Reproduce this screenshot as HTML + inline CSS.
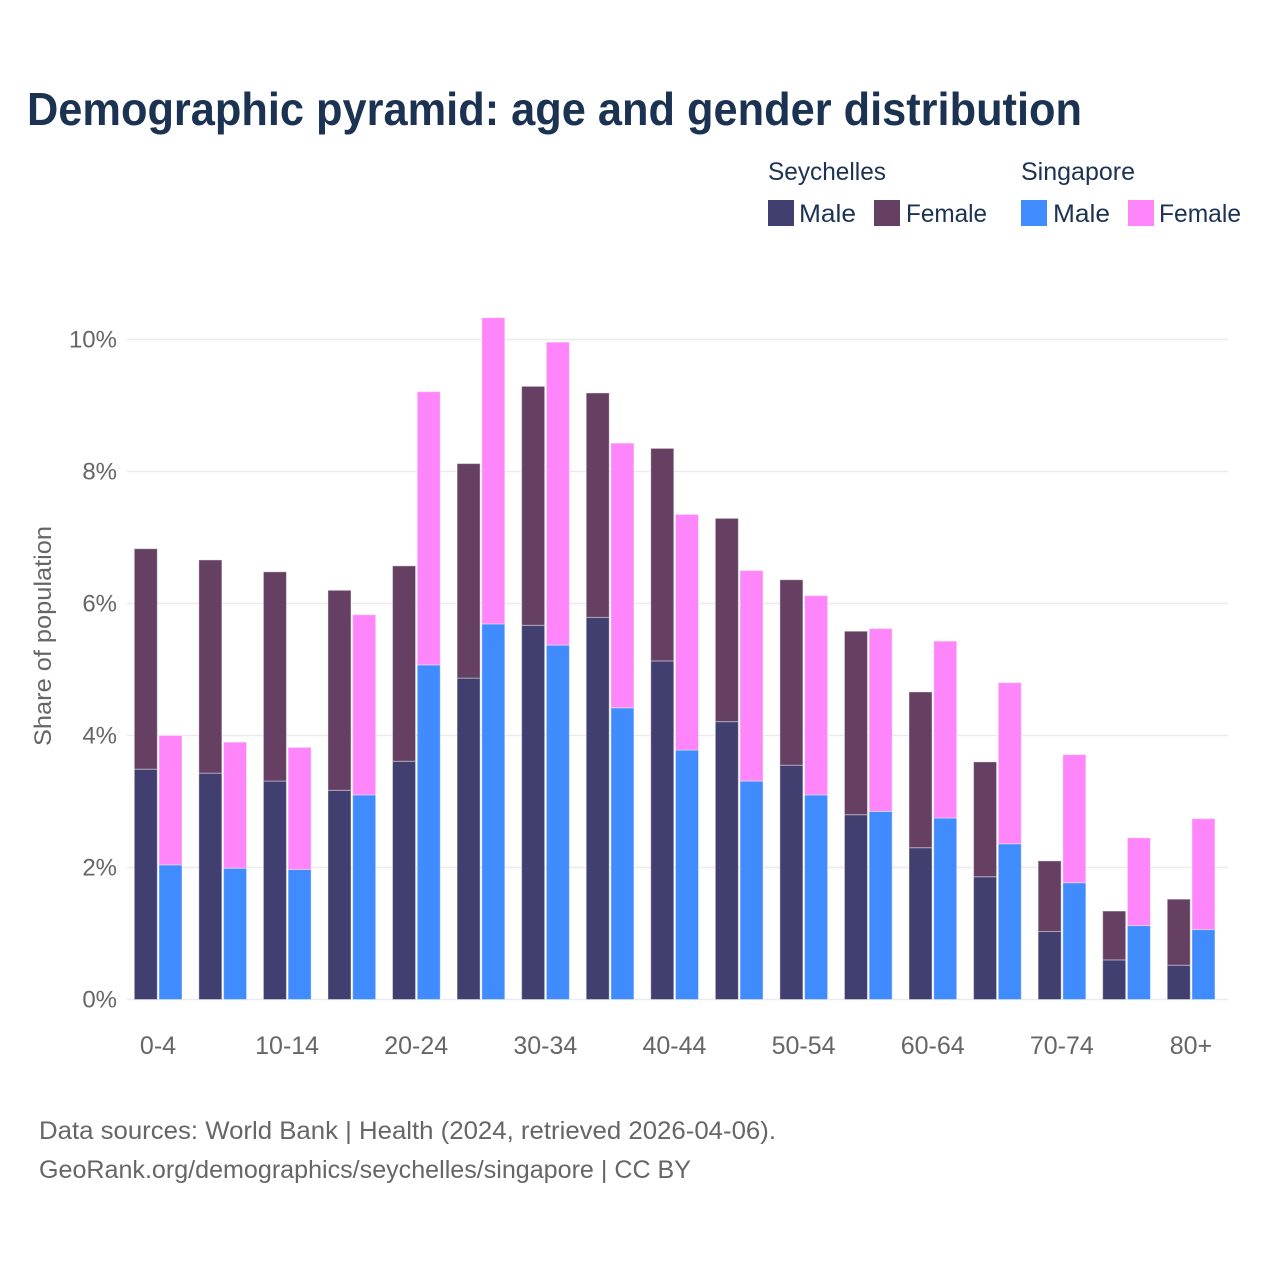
<!DOCTYPE html>
<html lang="en">
<head>
<meta charset="utf-8">
<title>Demographic pyramid</title>
<style>
html,body{margin:0;padding:0;background:#fff;width:1280px;height:1280px;overflow:hidden}
svg{display:block}
text{font-family:"Liberation Sans",sans-serif}
</style>
</head>
<body>
<svg id="chart" width="1280" height="1280" viewBox="0 0 1280 1280" xmlns="http://www.w3.org/2000/svg">
  <text x="27" y="125" font-size="46" font-weight="700" fill="#1b3252" textLength="1055" lengthAdjust="spacingAndGlyphs">Demographic pyramid: age and gender distribution</text>

  <g>
    <text x="768" y="180" font-size="25" fill="#1b3252" textLength="118" lengthAdjust="spacingAndGlyphs">Seychelles</text>
    <text x="1021" y="180" font-size="25" fill="#1b3252" textLength="114" lengthAdjust="spacingAndGlyphs">Singapore</text>
    <rect x="768" y="200" width="26" height="26" fill="#413e70"/>
    <text x="799" y="222" font-size="25" fill="#1b3252" textLength="57" lengthAdjust="spacingAndGlyphs">Male</text>
    <rect x="874" y="200" width="26" height="26" fill="#654062"/>
    <text x="906" y="222" font-size="25" fill="#1b3252" textLength="81" lengthAdjust="spacingAndGlyphs">Female</text>
    <rect x="1021" y="200" width="26" height="26" fill="#408cff"/>
    <text x="1053" y="222" font-size="25" fill="#1b3252" textLength="57" lengthAdjust="spacingAndGlyphs">Male</text>
    <rect x="1128" y="200" width="26" height="26" fill="#ff85fa"/>
    <text x="1159" y="222" font-size="25" fill="#1b3252" textLength="82" lengthAdjust="spacingAndGlyphs">Female</text>
  </g>

  <g id="grid"></g>
  <g id="yticks"></g>
  <g id="bars"></g>
  <g id="xticks"></g>

  <text transform="translate(51 636) rotate(-90)" text-anchor="middle" font-size="24" fill="#666666" textLength="220" lengthAdjust="spacingAndGlyphs">Share of population</text>

  <text x="39" y="1139" font-size="25" fill="#666666" textLength="737" lengthAdjust="spacingAndGlyphs">Data sources: World Bank | Health (2024, retrieved 2026-04-06).</text>
  <text x="39" y="1178" font-size="25" fill="#666666" textLength="652" lengthAdjust="spacingAndGlyphs">GeoRank.org/demographics/seychelles/singapore | CC BY</text>
</svg>
<script>
const categories = ["0-4","5-9","10-14","15-19","20-24","25-29","30-34","35-39","40-44","45-49","50-54","55-59","60-64","65-69","70-74","75-79","80+"];
const seychellesMale = [3.49,3.43,3.31,3.17,3.61,4.87,5.67,5.79,5.13,4.21,3.55,2.80,2.30,1.86,1.03,0.60,0.52];
const seychellesFemale = [3.34,3.23,3.17,3.03,2.96,3.25,3.62,3.40,3.22,3.08,2.81,2.78,2.36,1.74,1.07,0.74,1.00];
const singaporeMale = [2.04,1.99,1.97,3.10,5.07,5.69,5.37,4.42,3.78,3.31,3.10,2.85,2.75,2.36,1.77,1.12,1.06];
const singaporeFemale = [1.96,1.91,1.85,2.73,4.14,4.64,4.59,4.01,3.57,3.19,3.02,2.77,2.68,2.44,1.94,1.33,1.68];
const yTicks = [0,2,4,6,8,10];
const xTickLabels = ["0-4","10-14","20-24","30-34","40-44","50-54","60-64","70-74","80+"];

const NS = "http://www.w3.org/2000/svg";
const yScale = v => 999.5 - v * 66;
const groupX = i => 134.3 + i * 64.56;
const BAR_W = 23;
const BAR_GAP = 1.7;

function make(tag, attrs, parent) {
  const el = document.createElementNS(NS, tag);
  for (const k in attrs) el.setAttribute(k, attrs[k]);
  parent.appendChild(el);
  return el;
}

const gridG = document.getElementById("grid");
const yG = document.getElementById("yticks");
yTicks.forEach(t => {
  const line = make("line", {x1:127, x2:1228, y1:yScale(t), y2:yScale(t), stroke:"#ebebeb", "stroke-width":1.4}, gridG);
  
  
  const label = make("text", {x:117, y:yScale(t)+8, "text-anchor":"end", "font-size":24, fill:"#666666"}, yG);
  label.textContent = t + "%";
  
  
});

const barsG = document.getElementById("bars");
function segment(x, base, value, fill) {
  const top = yScale(base + value);
  const r = make("rect", {x:x, y:top, width:BAR_W, height:yScale(base)-top, fill:fill, stroke:"#ffffff", "stroke-opacity":0.4, "stroke-width":1}, barsG);
  return r;
}
categories.forEach((c, i) => {
  const x1 = groupX(i);
  const x2 = x1 + BAR_W + BAR_GAP;
  const a = segment(x1, 0, seychellesMale[i], "#413e70");
  
  
  const b = segment(x1, seychellesMale[i], seychellesFemale[i], "#654062");
  
  
  const d = segment(x2, 0, singaporeMale[i], "#408cff");
  
  
  const e = segment(x2, singaporeMale[i], singaporeFemale[i], "#ff85fa");
  
  
});

const xG = document.getElementById("xticks");
xTickLabels.forEach(t => {
  const i = categories.indexOf(t);
  const label = make("text", {x:groupX(i)+23.7, y:1054, "text-anchor":"middle", "font-size":25, fill:"#666666"}, xG);
  label.textContent = t;
  
  
});
</script>
</body>
</html>
